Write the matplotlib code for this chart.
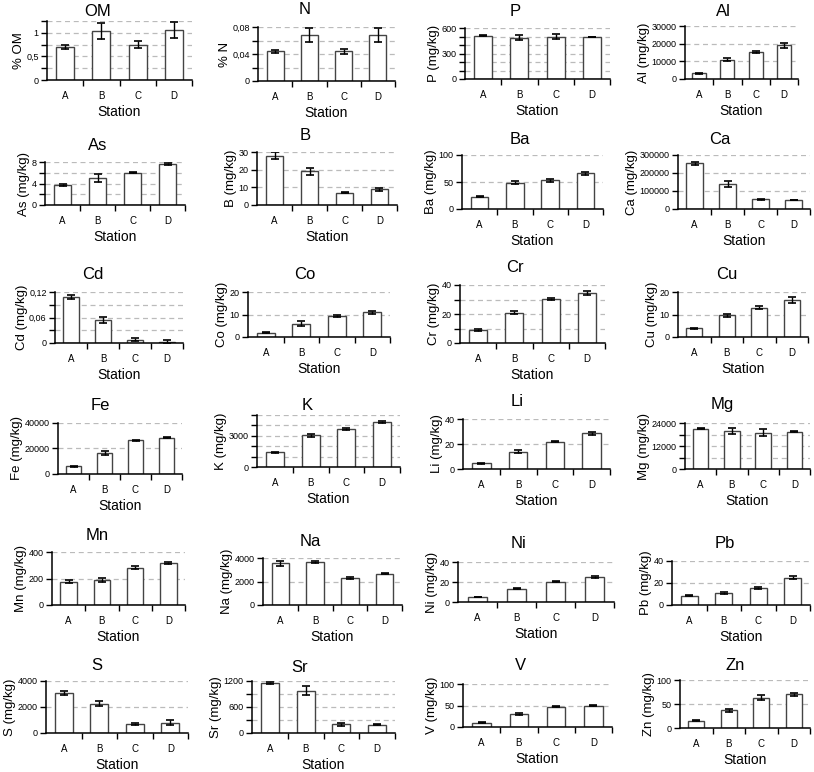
import matplotlib
matplotlib.use("Agg")
import matplotlib.pyplot as plt
import numpy as np

plt.rcParams['font.family'] = ['Liberation Sans', 'DejaVu Sans']

stations = ['A', 'B', 'C', 'D']
elements = ['OM', 'N', 'P', 'Al', 'As', 'B', 'Ba', 'Ca', 'Cd', 'Co', 'Cr', 'Cu',
            'Fe', 'K', 'Li', 'Mg', 'Mn', 'Na', 'Ni', 'Pb', 'S', 'Sr', 'V', 'Zn']
ylabels = ['% OM', '% N'] + [f'{e} (mg/kg)' for e in elements[2:]]

# mean values per station (A, B, C, D)
means = [
    [0.70, 1.04, 0.75, 1.06],            # OM
    [0.044, 0.068, 0.044, 0.068],        # N
    [510, 485, 500, 495],                # P
    [3300, 11000, 15200, 19000],         # Al
    [3.7, 5.0, 6.0, 7.6],                # As
    [28, 19, 7, 9],                      # B
    [23, 49, 53, 66],                    # Ba
    [255000, 138000, 53000, 49000],      # Ca
    [0.108, 0.055, 0.008, 0.002],        # Cd
    [2, 6, 9.5, 11],                     # Co
    [9, 21, 30.5, 34.5],                 # Cr
    [3.8, 9.6, 13, 16.5],                # Cu
    [6000, 16500, 26500, 28500],         # Fe
    [1400, 3050, 3650, 4300],            # K
    [4.5, 14, 22, 28.5],                 # Li
    [21000, 20000, 19000, 19500],        # Mg
    [175, 192, 283, 318],                # Mn
    [3550, 3650, 2300, 2680],            # Na
    [5, 13.5, 20.5, 25],                 # Ni
    [8.5, 11, 15.8, 25],                 # Pb
    [3050, 2250, 700, 800],              # S
    [1150, 980, 200, 190],               # Sr
    [10, 30, 47, 50],                    # V
    [15, 37, 63, 70],                    # Zn
]
# error bars
errs = [
    [0.05, 0.17, 0.07, 0.17],
    [0.002, 0.01, 0.004, 0.01],
    [5, 30, 30, 5],
    [300, 800, 600, 1200],
    [0.15, 0.8, 0.1, 0.15],
    [2, 2, 0.2, 0.8],
    [1, 3, 3, 3],
    [8000, 15000, 3000, 1000],
    [0.005, 0.007, 0.004, 0.005],
    [0.2, 1, 0.4, 0.7],
    [0.5, 1, 0.5, 1.5],
    [0.4, 0.8, 0.6, 1.2],
    [300, 1500, 300, 600],
    [80, 150, 80, 80],
    [0.5, 1.5, 0.6, 1.5],
    [300, 1500, 2000, 300],
    [12, 15, 10, 10],
    [200, 100, 100, 60],
    [0.2, 0.8, 0.3, 1.2],
    [0.4, 0.8, 0.8, 1.5],
    [150, 200, 50, 200],
    [30, 100, 30, 10],
    [0.5, 3, 1, 1],
    [1, 3, 5, 3],
]
# y axis: top, labelled tick step, dashed grid step
ytop = [1.25, 0.08, 600, 30000, 8, 30, 100, 300000, 0.12, 20, 40, 20,
        40000, 5000, 40, 24000, 400, 4000, 40, 40, 4000, 1200, 100, 100]
ylab_step = [0.5, 0.04, 300, 10000, 4, 10, 50, 100000, 0.06, 10, 20, 10,
             20000, 3000, 20, 12000, 200, 2000, 20, 20, 2000, 600, 50, 50]
ygrid_step = [0.25, 0.02, 100, 10000, 2, 10, 50, 100000, 0.03, 10, 10, 10,
              20000, 1000, 20, 6000, 200, 2000, 20, 20, 2000, 300, 50, 50]

# panel boxes in pixels: left, bottom, right, top ; title centre x, y
W, H = 814, 772
boxes = [
    (47, 80, 192, 21), (258, 81, 395, 27), (465, 79, 610, 28), (685, 79, 798, 26),
    (45, 205, 185, 162), (257, 205, 397, 152), (462, 209, 603, 155), (678, 209, 810, 155),
    (55, 343, 183, 292), (248, 337, 390, 292), (460, 343, 605, 285), (678, 337, 808, 292),
    (58, 474, 182, 423), (257, 467, 400, 415), (463, 469, 610, 419), (685, 469, 810, 423),
    (52, 605, 185, 552), (263, 605, 402, 558), (458, 602, 614, 562), (672, 605, 810, 561),
    (46, 733, 188, 681), (252, 733, 395, 681), (463, 727, 612, 684), (680, 728, 810, 680),
]
titles_xy = [
    (98, 11), (305, 10), (515, 12), (723, 12),
    (98, 145), (305, 135), (520, 139), (720, 139),
    (93, 275), (305, 275), (515, 268), (727, 275),
    (100, 405), (307, 405), (517, 402), (722, 405),
    (97, 535), (310, 542), (518, 543), (725, 543),
    (97, 665), (300, 667), (520, 666), (735, 666),
]


def fmt(v):
    return f"{round(v, 6):g}".replace('.', ',')


fig = plt.figure(figsize=(W / 100, H / 100), dpi=100)
fig.patch.set_facecolor('white')

x = np.arange(len(stations))
for i, el in enumerate(elements):
    l, b, r, t = boxes[i]
    ax = fig.add_axes([l / W, 1 - b / H, (r - l) / W, (b - t) / H])

    top = ytop[i]
    grid_vals = np.arange(0, top + ygrid_step[i] * 0.01, ygrid_step[i])
    for g in grid_vals[1:]:
        ax.axhline(g, color='#bbbbbb', ls=(0, (4, 3)), lw=0.9, zorder=0)

    ax.bar(x, means[i], width=0.5, color='white', edgecolor='#444444',
           linewidth=1.0, zorder=2)
    ax.errorbar(x, means[i], yerr=errs[i], fmt='none', ecolor='black',
                elinewidth=1.0, capsize=3, capthick=1.2, zorder=3)

    ax.set_xlim(-0.5, 3.5)
    ax.set_ylim(0, top)

    labs = np.arange(0, top + ylab_step[i] * 0.01, ylab_step[i])
    ax.set_yticks(labs)
    ax.set_yticklabels([fmt(v) for v in labs])
    ax.set_yticks(grid_vals, minor=True)

    ax.set_xticks(x)
    ax.set_xticklabels(stations)
    ax.set_xticks([0.5, 1.5, 2.5, 3.5], minor=True)
    ax.tick_params(axis='x', which='major', length=0, labelsize=7, pad=8)
    ax.tick_params(axis='x', which='minor', length=4, width=1)
    ax.tick_params(axis='y', which='both', length=4, width=1, labelsize=6.5, pad=2)

    for s in ['top', 'right']:
        ax.spines[s].set_visible(False)
    for s in ['left', 'bottom']:
        ax.spines[s].set_linewidth(1.1)

    ax.set_xlabel('Station', fontsize=10, labelpad=3)
    ax.set_ylabel(ylabels[i], fontsize=9.5, labelpad=1)

    tx, ty = titles_xy[i]
    fig.text(tx / W, 1 - ty / H, el, fontsize=12, ha='center', va='center')

fig.savefig('out.png', dpi=100, facecolor='white')
